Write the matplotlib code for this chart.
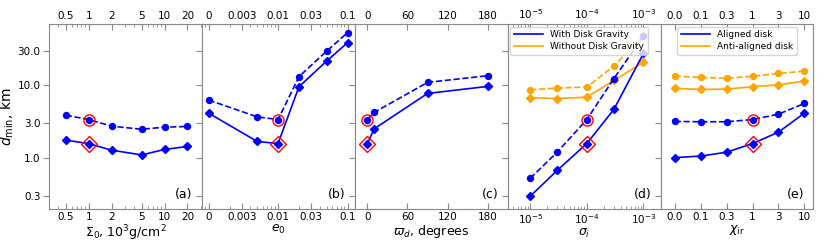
import matplotlib
matplotlib.use("Agg")
import matplotlib.pyplot as plt
from matplotlib.ticker import FixedLocator, FixedFormatter, NullLocator, LogLocator, NullFormatter
import numpy as np

# ---------------- data ----------------
# (a) surface density
sigma0 = [0.5, 1, 2, 5, 10, 20]
a_dash = [3.9, 3.4, 2.76, 2.5, 2.67, 2.73]
a_solid = [1.77, 1.59, 1.29, 1.11, 1.32, 1.45]

# (b) eccentricity (0 plotted at 1e-3 on log axis)
e0 = [0.001, 0.005, 0.01, 0.02, 0.05, 0.1]
b_dash = [6.3, 3.7, 3.4, 13.2, 29.6, 53.0]
b_solid = [4.16, 1.70, 1.59, 9.6, 21.6, 38.7]

# (c) disk orientation
varpi = [0, 10, 90, 180]
c_dash = [3.4, 4.25, 11.0, 13.6]
c_solid = [1.59, 2.53, 7.76, 9.7]

# (d) sigma_i
sigi = [1e-5, 3e-5, 1e-4, 3e-4, 1e-3]
d_dash_grav = [0.53, 1.21, 3.4, 12.4, 47.6]
d_solid_grav = [0.30, 0.68, 1.59, 4.68, 27.5]
d_dash_nograv = [8.7, 9.2, 9.5, 18.4, 48.7]
d_solid_nograv = [6.8, 6.6, 6.9, 11.7, 20.9]

# (e) chi_ir (equally spaced categories)
chi_labels = ["0.0", "0.1", "0.3", "1", "3", "10"]
e_dash_al = [3.2, 3.17, 3.17, 3.4, 4.03, 5.65]
e_solid_al = [1.02, 1.07, 1.21, 1.59, 2.28, 4.16]
e_dash_anti = [13.4, 12.9, 12.5, 13.4, 14.6, 15.7]
e_solid_anti = [9.1, 8.8, 8.9, 9.6, 10.2, 11.5]

# fiducial (highlighted) values
fid_dash = 3.4
fid_solid = 1.59

yticks = [0.3, 1.0, 3.0, 10.0, 30.0]
ytick_labels = ["0.3", "1.0", "3.0", "10.0", "30.0"]

BLUE = "blue"
ORANGE = "orange"
RED = "red"
SPINE = "#888888"
TICKFS = 7.5

fig, axes = plt.subplots(1, 5, figsize=(8.3, 2.44), dpi=100, sharey=True)
fig.subplots_adjust(left=0.059, right=0.980, bottom=0.143, top=0.902, wspace=0)

def pair(ax, x, yd, ys, color):
    ax.plot(x, yd, "--", color=color, marker="o", ms=4.3, lw=1.2)
    ax.plot(x, ys, "-", color=color, marker="D", ms=4.3, lw=1.2)

def highlight(ax, x):
    ax.plot([x], [fid_dash], "o", ms=8, mfc="none", mec=RED, mew=1.0)
    ax.plot([x], [fid_solid], "D", ms=8.5, mfc="none", mec=RED, mew=1.0)

# (a)
ax = axes[0]
pair(ax, sigma0, a_dash, a_solid, BLUE)
highlight(ax, 1)
ax.set_xscale("log")
ax.set_xlim(0.3, 31)
xt = [0.5, 1, 2, 5, 10, 20]
ax.xaxis.set_major_locator(FixedLocator(xt))
ax.xaxis.set_major_formatter(FixedFormatter(["0.5", "1", "2", "5", "10", "20"]))
ax.xaxis.set_minor_locator(LogLocator(base=10, subs=np.arange(2, 10)))
ax.xaxis.set_minor_formatter(NullFormatter())
ax.set_xlabel(r"$\Sigma_0$, $10^3$g/cm$^2$", fontsize=9, labelpad=1)

# (b)
ax = axes[1]
pair(ax, e0, b_dash, b_solid, BLUE)
highlight(ax, 0.01)
ax.set_xscale("log")
ax.set_xlim(0.0008, 0.127)
xt = [0.001, 0.003, 0.01, 0.03, 0.1]
ax.xaxis.set_major_locator(FixedLocator(xt))
ax.xaxis.set_major_formatter(FixedFormatter(["0", "0.003", "0.01", "0.03", "0.1"]))
ax.xaxis.set_minor_locator(LogLocator(base=10, subs=np.arange(2, 10)))
ax.xaxis.set_minor_formatter(NullFormatter())
ax.set_xlabel(r"$e_0$", fontsize=9, labelpad=1)

# (c)
ax = axes[2]
pair(ax, varpi, c_dash, c_solid, BLUE)
highlight(ax, 0)
ax.set_xlim(-19, 210)
ax.xaxis.set_major_locator(FixedLocator([0, 60, 120, 180]))
ax.xaxis.set_minor_locator(NullLocator())
ax.set_xlabel(r"$\varpi_d$, degrees", fontsize=9, labelpad=1)

# (d)
ax = axes[3]
ax.plot(sigi, d_dash_nograv, "--", color=ORANGE, marker="o", ms=4.3, lw=1.2)
ax.plot(sigi, d_solid_nograv, "-", color=ORANGE, marker="D", ms=4.3, lw=1.2)
ax.plot(sigi, d_dash_grav, "--", color=BLUE, marker="o", ms=4.3, lw=1.2)
ax.plot(sigi, d_solid_grav, "-", color=BLUE, marker="D", ms=4.3, lw=1.2)
highlight(ax, 1e-4)
ax.set_xscale("log")
ax.set_xlim(4e-6, 2e-3)
ax.xaxis.set_major_locator(FixedLocator([1e-5, 1e-4, 1e-3]))
ax.xaxis.set_major_formatter(FixedFormatter([r"$10^{-5}$", r"$10^{-4}$", r"$10^{-3}$"]))
ax.xaxis.set_minor_locator(LogLocator(base=10, subs=np.arange(2, 10)))
ax.xaxis.set_minor_formatter(NullFormatter())
ax.set_xlabel(r"$\sigma_i$", fontsize=9, labelpad=1)
h1, = ax.plot([], [], "-", color=BLUE, lw=1.2, label="With Disk Gravity")
h2, = ax.plot([], [], "-", color=ORANGE, lw=1.2, label="Without Disk Gravity")
ax.legend(handles=[h1, h2], loc="upper left", fontsize=6.5, frameon=True,
          borderaxespad=0.3, handlelength=3.2, labelspacing=0.3)

# (e)
ax = axes[4]
xe = np.arange(len(chi_labels))
ax.plot(xe, e_dash_anti, "--", color=ORANGE, marker="o", ms=4.3, lw=1.2)
ax.plot(xe, e_solid_anti, "-", color=ORANGE, marker="D", ms=4.3, lw=1.2)
ax.plot(xe, e_dash_al, "--", color=BLUE, marker="o", ms=4.3, lw=1.2)
ax.plot(xe, e_solid_al, "-", color=BLUE, marker="D", ms=4.3, lw=1.2)
highlight(ax, 3)
ax.set_xlim(-0.55, 5.35)
ax.xaxis.set_major_locator(FixedLocator(list(xe)))
ax.xaxis.set_major_formatter(FixedFormatter(chi_labels))
ax.xaxis.set_minor_locator(NullLocator())
ax.set_xlabel(r"$\chi_{\rm ir}$", fontsize=9, labelpad=1)
h1, = ax.plot([], [], "-", color=BLUE, lw=1.2, label="Aligned disk")
h2, = ax.plot([], [], "-", color=ORANGE, lw=1.2, label="Anti-aligned disk")
ax.legend(handles=[h1, h2], loc="upper center", fontsize=6.5, frameon=True,
          borderaxespad=0.3, handlelength=3.2, labelspacing=0.3)

# shared y
ax0 = axes[0]
ax0.set_yscale("log")
ax0.set_ylim(0.2, 70)
ax0.yaxis.set_major_locator(FixedLocator(yticks))
ax0.yaxis.set_major_formatter(FixedFormatter(ytick_labels))
ax0.yaxis.set_minor_locator(NullLocator())
ax0.set_ylabel(r"$d_{\rm min}$, km", fontsize=10, labelpad=1)

for i, ax in enumerate(axes):
    for s in ax.spines.values():
        s.set_color(SPINE)
    ax.tick_params(axis="x", which="both", direction="in", top=True, bottom=True,
                   labeltop=True, labelbottom=True, labelsize=TICKFS, color=SPINE, pad=2)
    ax.tick_params(axis="x", which="major", length=4)
    ax.tick_params(axis="x", which="minor", length=2)
    ax.tick_params(axis="y", which="major", direction="out", length=4, labelsize=TICKFS,
                   color=SPINE, left=True, right=False, labelleft=(i == 0), pad=2)
    ax.text(0.94, 0.045, "(" + "abcde"[i] + ")", transform=ax.transAxes,
            ha="right", va="bottom", fontsize=9)

fig.savefig("out.png", dpi=100)
